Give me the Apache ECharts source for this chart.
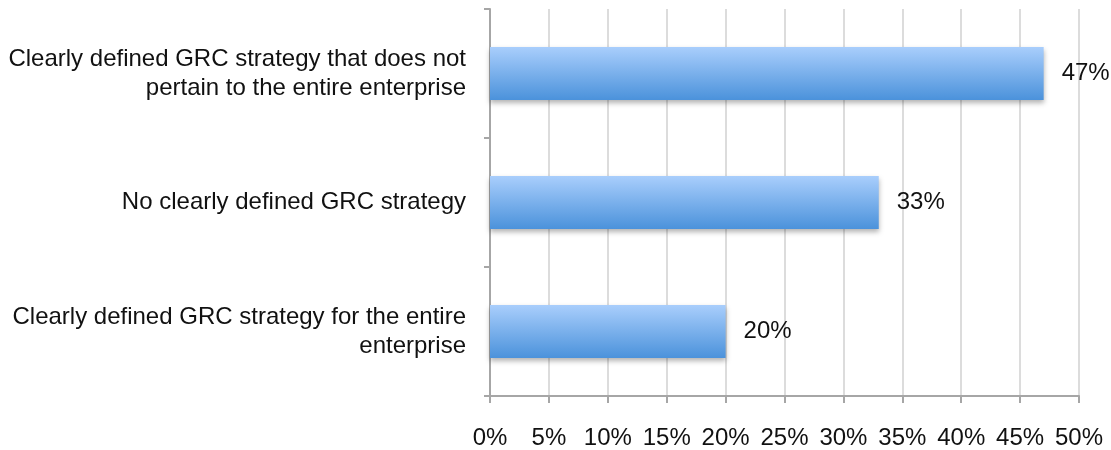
<!DOCTYPE html>
<html>
<head>
<meta charset="utf-8">
<script src="https://cdn.jsdelivr.net/npm/echarts@6/dist/echarts.min.js"></script>
<style>
  html, body { margin: 0; padding: 0; background: #fff; }
  #chart { width: 1111px; height: 450px; }
</style>
</head>
<body>
<div id="chart"></div>
<script>
// Survey responses on GRC strategy (share of respondents, %)
const categories = [
  'Clearly defined GRC strategy that does not\npertain to the entire enterprise',
  'No clearly defined GRC strategy',
  'Clearly defined GRC strategy for the entire\nenterprise'
];
const shares = [47, 33, 20];
const xTicks = { min: 0, max: 50, step: 5 };

const chart = echarts.init(document.getElementById('chart'));
const font = 'Liberation Sans, Arial, Helvetica, sans-serif';

chart.setOption({
  animation: false,
  grid: { left: 490, right: 32, top: 9, bottom: 51, containLabel: false },
  xAxis: {
    type: 'value',
    min: xTicks.min,
    max: xTicks.max,
    interval: xTicks.step,
    axisLine: { show: true, lineStyle: { color: '#a6a6a6', width: 2 } },
    axisTick: { show: true, length: 7, lineStyle: { color: '#a6a6a6', width: 2 } },
    splitLine: { show: true, lineStyle: { color: '#dcdcdc', width: 2 } },
    axisLabel: {
      formatter: '{value}%',
      color: '#111',
      fontFamily: font,
      fontSize: 24,
      margin: 30
    }
  },
  yAxis: {
    type: 'category',
    inverse: true,
    data: categories,
    axisLine: { show: true, lineStyle: { color: '#a6a6a6', width: 2 } },
    axisTick: { show: true, length: 6, lineStyle: { color: '#a6a6a6', width: 2 } },
    axisLabel: {
      color: '#111',
      fontFamily: font,
      fontSize: 24,
      lineHeight: 29,
      margin: 24,
      align: 'right'
    }
  },
  series: [{
    type: 'bar',
    data: shares,
    barWidth: 53,
    itemStyle: {
      color: new echarts.graphic.LinearGradient(0, 0, 0, 1, [
        { offset: 0, color: '#a9cefc' },
        { offset: 1, color: '#4b92db' }
      ]),
      shadowColor: 'rgba(0,0,0,0.3)',
      shadowBlur: 5,
      shadowOffsetY: 3
    },
    label: {
      show: true,
      position: 'right',
      distance: 18,
      formatter: '{c}%',
      color: '#111',
      fontFamily: font,
      fontSize: 24
    }
  }]
});
</script>
</body>
</html>
